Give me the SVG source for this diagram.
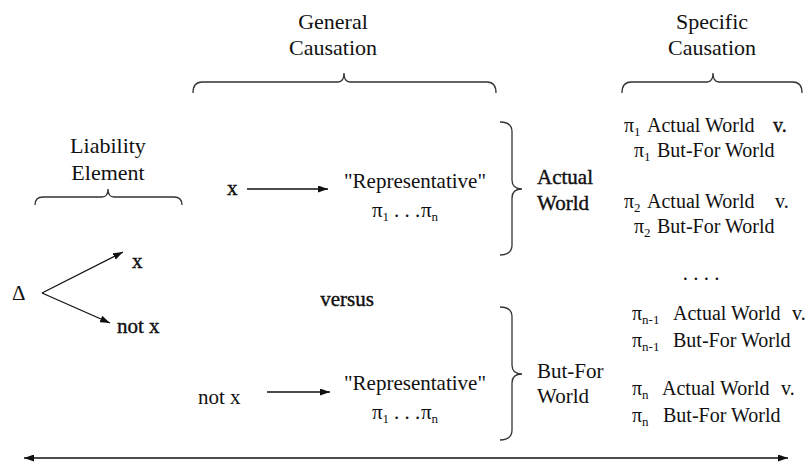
<svg xmlns="http://www.w3.org/2000/svg" width="806" height="464" viewBox="0 0 806 464">
  <style>
    .t { font-family: "Liberation Serif", "Times New Roman", serif; font-size: 21px; fill: #111; }
    .hd { font-size: 22px; text-anchor: middle; }
    .mid { text-anchor: middle; }
    .row { font-size: 20px; }
    .med { stroke: #111; stroke-width: 0.4px; }
    .sub { font-size: 13px; }
    .brace { fill: none; stroke: #333; stroke-width: 1.3; }
    .conn { fill: none; stroke: #111; stroke-width: 1.3; }
  </style>
  <defs>
    <marker id="head" viewBox="0 0 10 7" refX="10" refY="3.5" markerWidth="10" markerHeight="7" markerUnits="userSpaceOnUse" orient="auto-start-reverse">
      <path d="M0,0 L10,3.5 L0,7 z" fill="#111"/>
    </marker>
  </defs>

  <rect width="806" height="464" fill="#fff"/>

  <!-- column headings with their braces -->
  <g id="liability-element">
    <text class="t hd" x="108" y="153">Liability</text>
    <text class="t hd" x="108" y="180">Element</text>
    <path class="brace" d="M35,205 Q35,197 43,197 H102 Q108,197 108,189 Q108,197 114,197 H174 Q182,197 182,205"/>
  </g>
  <g id="general-causation">
    <text class="t hd" x="333" y="29">General</text>
    <text class="t hd" x="333" y="55">Causation</text>
    <path class="brace" d="M193,93 Q193,82 202,82 H338 Q344,82 344,73 Q344,82 350,82 H487 Q496,82 496,93"/>
  </g>
  <g id="specific-causation">
    <text class="t hd" x="712" y="29">Specific</text>
    <text class="t hd" x="712" y="55">Causation</text>
    <path class="brace" d="M622,93 Q622,82 631,82 H707 Q713,82 713,73 Q713,82 719,82 H793 Q802,82 802,93"/>
  </g>

  <!-- liability element branches -->
  <g id="delta"><text class="t" x="12" y="300" font-size="22">Δ</text></g>
  <g id="branch-x"><text class="t med" x="132" y="268">x</text></g>
  <g id="branch-not-x"><text class="t med" x="117" y="333">not x</text></g>

  <!-- general causation rows -->
  <g id="cause-x"><text class="t med" x="227" y="195">x</text></g>
  <g id="representative-x">
    <text class="t mid" x="415" y="188">"Representative"</text>
    <text class="t" x="372" y="217">π<tspan class="sub" dy="4">1</tspan><tspan x="394" dy="-4">. . .</tspan><tspan x="421">π</tspan><tspan class="sub" dy="4">n</tspan></text>
  </g>
  <g id="versus"><text class="t med mid" x="347" y="306">versus</text></g>
  <g id="cause-not-x"><text class="t" x="198" y="404">not x</text></g>
  <g id="representative-not-x">
    <text class="t mid" x="415" y="390">"Representative"</text>
    <text class="t" x="372" y="419">π<tspan class="sub" dy="4">1</tspan><tspan x="394" dy="-4">. . .</tspan><tspan x="421">π</tspan><tspan class="sub" dy="4">n</tspan></text>
  </g>

  <!-- world braces -->
  <g id="actual-world">
    <path class="brace" d="M500,122 Q512,122 512,132 V180 Q512,189 522,189 Q512,189 512,198 V245 Q512,255 500,255"/>
    <text class="t med" x="537" y="184">Actual</text>
    <text class="t med" x="537" y="210">World</text>
  </g>
  <g id="but-for-world">
    <path class="brace" d="M500,307 Q512,307 512,317 V365 Q512,374 522,374 Q512,374 512,383 V430 Q512,440 500,440"/>
    <text class="t" x="537" y="378">But-For</text>
    <text class="t" x="537" y="403">World</text>
  </g>

  <!-- specific causation comparisons -->
  <g id="pi-1">
    <text class="t row" x="624" y="132">π<tspan class="sub" dy="4">1</tspan><tspan x="647" dy="-4">Actual World</tspan><tspan class="med" x="773">v.</tspan></text>
    <text class="t row" x="634" y="157">π<tspan class="sub" dy="4">1</tspan><tspan x="657" dy="-4">But-For World</tspan></text>
  </g>
  <g id="pi-2">
    <text class="t row" x="624" y="208">π<tspan class="sub" dy="4">2</tspan><tspan x="647" dy="-4">Actual World</tspan><tspan x="775">v.</tspan></text>
    <text class="t row" x="634" y="233">π<tspan class="sub" dy="4">2</tspan><tspan x="657" dy="-4">But-For World</tspan></text>
  </g>
  <g id="ellipsis"><text class="t mid" x="701" y="280" font-size="18">. . . .</text></g>
  <g id="pi-n-1">
    <text class="t row" x="632" y="320">π<tspan class="sub" dy="4">n-1</tspan><tspan x="673" dy="-4">Actual World</tspan><tspan x="792">v.</tspan></text>
    <text class="t row" x="632" y="347">π<tspan class="sub" dy="4">n-1</tspan><tspan x="673" dy="-4">But-For World</tspan></text>
  </g>
  <g id="pi-n">
    <text class="t row" x="632" y="395">π<tspan class="sub" dy="4">n</tspan><tspan x="662" dy="-4">Actual World</tspan><tspan x="781">v.</tspan></text>
    <text class="t row" x="632" y="422">π<tspan class="sub" dy="4">n</tspan><tspan x="663" dy="-4">But-For World</tspan></text>
  </g>

  <!-- connectors -->
  <g id="connectors">
    <line class="conn" x1="42" y1="293" x2="123" y2="252" marker-end="url(#head)"/>
    <line class="conn" x1="42" y1="293" x2="110" y2="323" marker-end="url(#head)"/>
    <line class="conn" x1="247" y1="189" x2="328" y2="189" marker-end="url(#head)"/>
    <line class="conn" x1="267" y1="392" x2="330" y2="392" marker-end="url(#head)"/>
    <line class="conn" x1="24" y1="458" x2="788" y2="458" marker-start="url(#head)" marker-end="url(#head)"/>
  </g>
</svg>
